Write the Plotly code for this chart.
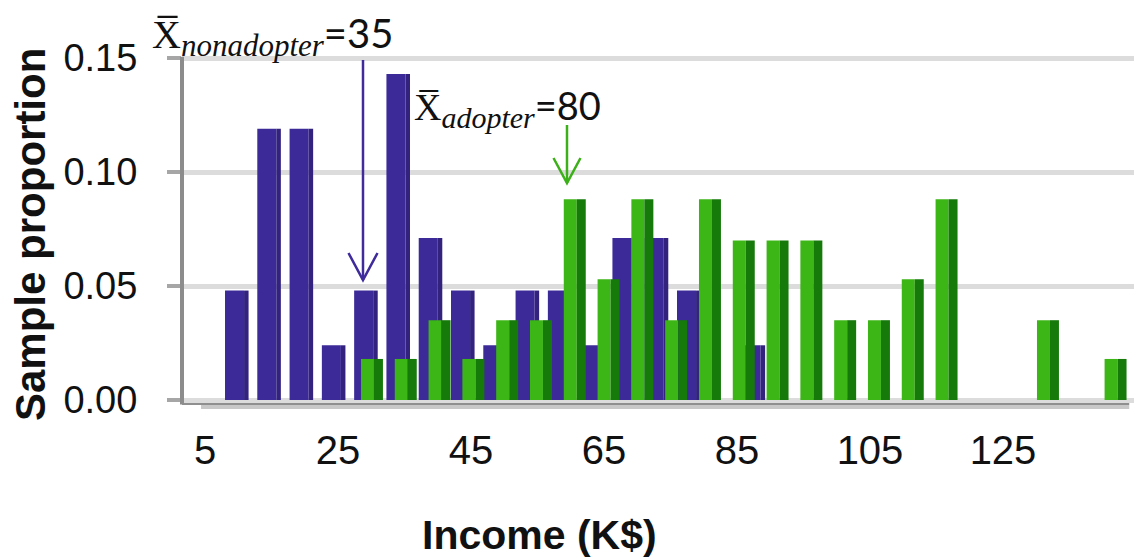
import plotly.graph_objects as go

# Income bins (K$) and the share of each group falling in each bin
income = [5, 10, 15, 20, 25, 30, 35, 40, 45, 50, 55, 60, 65, 70,
          75, 80, 85, 90, 95, 100, 105, 110, 115, 120, 125, 130, 135, 140]
nonadopter = [0, 0.048, 0.119, 0.119, 0.024, 0.048, 0.143, 0.071, 0.048, 0.024,
              0.048, 0.048, 0.024, 0.071, 0.071, 0.048, 0, 0.024, 0, 0,
              0, 0, 0, 0, 0, 0, 0, 0]
adopter = [0, 0, 0, 0, 0, 0.018, 0.018, 0.035, 0.018, 0.035,
           0.035, 0.088, 0.053, 0.088, 0.035, 0.088, 0.070, 0.070, 0.070, 0.035,
           0.035, 0.053, 0.088, 0, 0, 0.035, 0, 0.018]
x_ticks = [5, 25, 45, 65, 85, 105, 125]
y_ticks = [0.00, 0.05, 0.10, 0.15]

nonadopter_mean = 35
adopter_mean = 80

W, H = 1134, 560
L, R, T, B = 182, 0, 50, 150
PW, PH = W - L - R, H - T - B

BLUE = "#3c2a98"
BLUE_SIDE = "#33237f"
GREEN = "#3cb516"
GREEN_SIDE = "#167a0b"
FONT = "Liberation Sans, Arial, sans-serif"
INK = "#111111"


def axis_range(anchor_val, anchor_px, px_per_unit):
    """x range so that anchor_val sits at anchor_px (page pixels)."""
    return [anchor_val + (L - anchor_px) / px_per_unit,
            anchor_val + (W - R - anchor_px) / px_per_unit]


def paper(px, py):
    return (px - L) / PW, (T + PH - py) / PH


# back row (nonadopters), front row (adopters) and the front edge that
# carries the labels sit at different depths, so each gets its own scale
x_back = axis_range(10, 236.5, 6.457)
x_near = axis_range(30, 372, 6.76)
x_front = axis_range(5, 205, 6.65)
y_range = [-10 / 2280, 350 / 2280]

fig = go.Figure()

# nonadopter columns (face + shaded side) on the back row
fig.add_trace(go.Bar(x=income, y=nonadopter, xaxis="x", yaxis="y",
                     width=2.95, offset=-1.78, marker_color=BLUE,
                     marker_line_width=0, name="nonadopter"))
fig.add_trace(go.Bar(x=income, y=nonadopter, xaxis="x", yaxis="y",
                     width=0.7, offset=1.17, marker_color=BLUE_SIDE,
                     marker_line_width=0, showlegend=False))
# adopter columns (face + shaded side) on the front row
fig.add_trace(go.Bar(x=income, y=adopter, xaxis="x2", yaxis="y",
                     width=1.92, offset=-1.63, marker_color=GREEN,
                     marker_line_width=0, name="adopter"))
fig.add_trace(go.Bar(x=income, y=adopter, xaxis="x2", yaxis="y",
                     width=1.33, offset=0.29, marker_color=GREEN_SIDE,
                     marker_line_width=0, showlegend=False))
# empty series that registers the front-edge label axis (draws nothing)
fig.add_trace(go.Scatter(x=x_ticks, y=[None] * len(x_ticks), xaxis="x3",
                         yaxis="y", mode="lines", showlegend=False,
                         hoverinfo="skip"))

shapes = []
# floor of the 3-D plot
shapes.append(dict(type="rect", xref="paper", yref="y", x0=0, x1=0.995,
                   y0=-0.0022, y1=-0.0003, fillcolor="#8f8f8f",
                   line_width=0, layer="below"))
shapes.append(dict(type="rect", xref="paper", yref="y", x0=0.02, x1=0.995,
                   y0=-0.0040, y1=-0.0022, fillcolor="#c8c8c8",
                   line_width=0, layer="below"))
# value axis line
shapes.append(dict(type="line", xref="paper", yref="y", x0=0, x1=0,
                   y0=-0.002, y1=0.1505, line=dict(color="#8c8c8c", width=4)))


def arrow(x, y_top, y_tip, half_w, head_h, color):
    x0, yt = paper(x, y_top)
    _, yp = paper(x, y_tip)
    xl, yh = paper(x - half_w, y_tip - head_h)
    xr, _ = paper(x + half_w, y_tip - head_h)
    line = dict(color=color, width=2.5)
    return [
        dict(type="line", xref="paper", yref="paper", x0=x0, x1=x0,
             y0=yt, y1=yp, line=line),
        dict(type="path", xref="paper", yref="paper",
             path=f"M {xl},{yh} L {x0},{yp} L {xr},{yh}", line=line),
    ]


shapes += arrow(363, 60, 280, 14.5, 27, "#3f2b9b")
shapes += arrow(567, 125, 183, 13.5, 25, "#3cb019")

SERIF = "font-family:Liberation Serif, DejaVu Serif, serif"


def mean_label(group, value, sub_size):
    return (f'<span style="{SERIF}">X\u0305</span>'
            f'<sub><span style="{SERIF};font-style:italic;font-size:{sub_size}px">'
            f'{group}</span></sub>={value}')


ax, ay = paper(150, 7)
bx, by = paper(412, 80)
tx, ty = paper(539, 535)
yx, yy = paper(31, 235)
annotations = [
    dict(text=mean_label("nonadopter", nonadopter_mean, 31), xref="paper",
         yref="paper", x=ax, y=ay, xanchor="left", yanchor="top",
         showarrow=False, font=dict(family="Lato, Open Sans, sans-serif",
                                    size=40, color=INK)),
    dict(text=mean_label("adopter", adopter_mean, 30), xref="paper",
         yref="paper", x=bx, y=by, xanchor="left", yanchor="top",
         showarrow=False, font=dict(family="Lato, Open Sans, sans-serif",
                                    size=38, color=INK)),
    dict(text="<b>Income (K$)</b>", xref="paper", yref="paper", x=tx, y=ty,
         xanchor="center", yanchor="middle", showarrow=False,
         font=dict(family=FONT, size=41, color=INK)),
    dict(text="<b>Sample proportion</b>", xref="paper", yref="paper",
         x=yx, y=yy, textangle=-90, xanchor="center", yanchor="middle",
         showarrow=False, font=dict(family=FONT, size=42, color=INK)),
]

hidden = dict(showticklabels=False, ticks="", showgrid=False,
              zeroline=False, showline=False)

fig.update_layout(
    width=W, height=H,
    margin=dict(l=L, r=R, t=T, b=B, pad=0),
    paper_bgcolor="white", plot_bgcolor="white",
    barmode="overlay", showlegend=False,
    shapes=shapes, annotations=annotations,
    xaxis=dict(range=x_back, **hidden),
    xaxis2=dict(range=x_near, overlaying="x", anchor="y", **hidden),
    xaxis3=dict(range=x_front, overlaying="x", anchor="y", side="bottom",
                tickmode="array", tickvals=x_ticks,
                ticktext=[str(v) for v in x_ticks], ticks="",
                showgrid=False, zeroline=False, showline=False,
                ticklabelstandoff=13,
                tickfont=dict(family=FONT, size=40, color=INK)),
    yaxis=dict(range=y_range, tickmode="array", tickvals=y_ticks,
               ticktext=[f"{v:.2f}" for v in y_ticks],
               showgrid=True, gridcolor="#dcdcdc", gridwidth=5,
               zeroline=False, showline=False, ticks="outside", ticklen=14,
               tickwidth=4, tickcolor="#a6a6a6", ticklabelstandoff=22,
               tickfont=dict(family=FONT, size=38, color=INK)),
)

fig.write_html("out.html")
